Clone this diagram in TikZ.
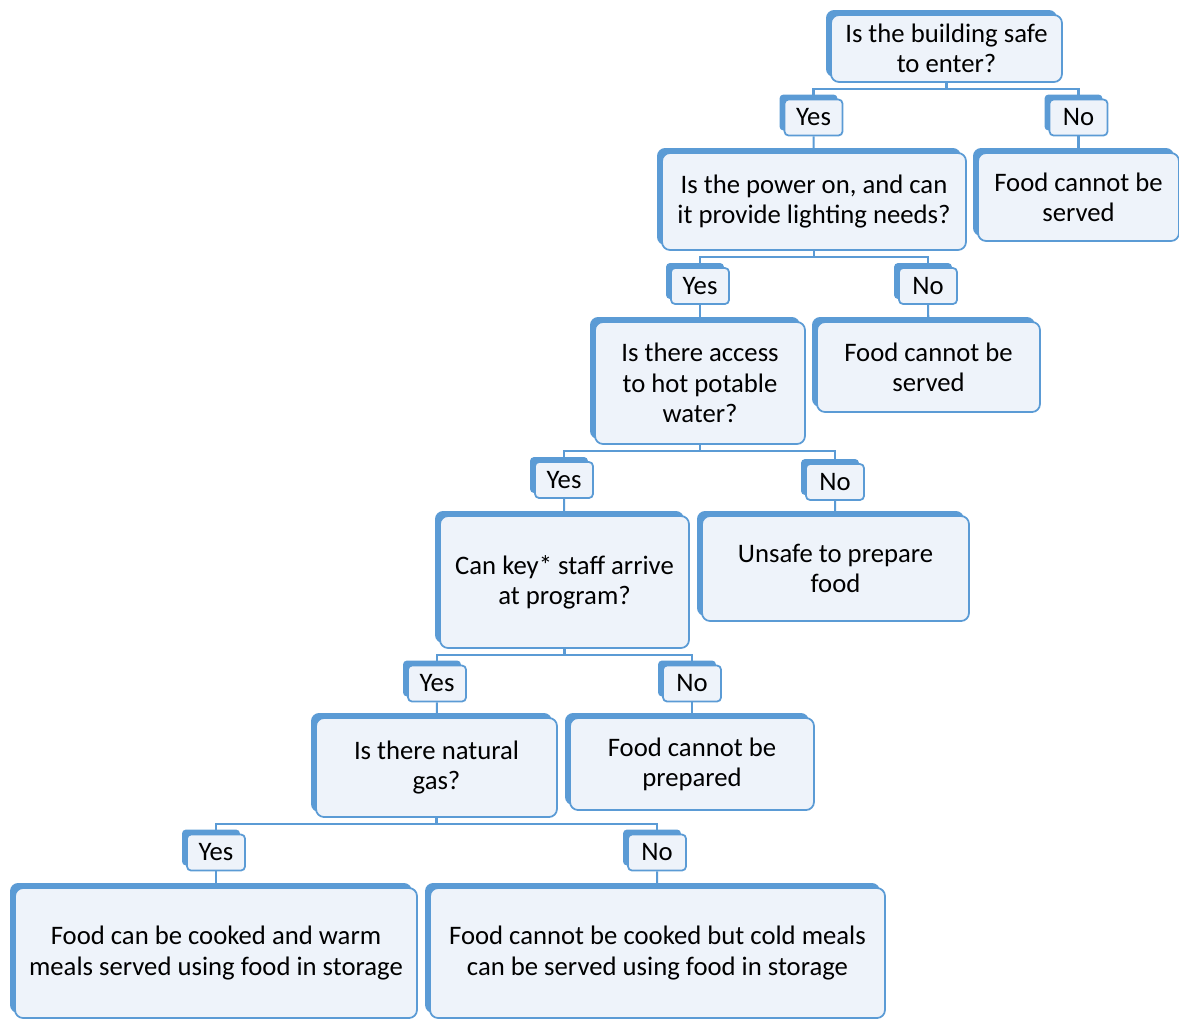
\documentclass[tikz,border=0pt]{standalone}
\usepackage{fontspec}
\setmainfont{Carlito}
\usepackage{tikz}
\usetikzlibrary{shadows}
\definecolor{accent}{HTML}{5B9BD5}
\definecolor{boxfill}{HTML}{EEF3FA}
\begin{document}
\begin{tikzpicture}[
    x=0.02cm, y=-0.02cm,
    box/.style={rectangle, draw=accent, line width=1pt, fill=boxfill, rounded corners=0.16cm,
        align=center, inner sep=0pt, font=\fontsize{15.2}{17.2}\selectfont,
        copy shadow={shadow xshift=-0.1cm, shadow yshift=0.1cm, fill=accent, draw=none}},
    tag/.style={box, rounded corners=0.08cm, minimum width=1.16cm, minimum height=0.72cm},
    link/.style={draw=accent, line width=1.2pt}
]
\useasboundingbox (0,0) rectangle (1179,1019);

% questions
\node[box, minimum width=4.62cm, minimum height=1.34cm] (q1) at (946.5,48.5) {Is the building safe\\to enter?};
\node[box, minimum width=6.08cm, minimum height=1.94cm] (q2) at (814,201.5) {Is the power on, and can\\it provide lighting needs?};
\node[box, minimum width=4.20cm, minimum height=2.44cm] (q3) at (700,383) {Is there access\\to hot potable\\water?};
\node[box, minimum width=4.98cm, minimum height=2.64cm] (q4) at (564.5,582) {Can key* staff arrive\\at program?};
\node[box, minimum width=4.82cm, minimum height=1.98cm] (q5) at (436.5,767.5) {Is there natural\\gas?};

% outcomes
\node[box, minimum width=4.02cm, minimum height=1.76cm] (a1) at (1078.5,197) {Food cannot be\\served};
\node[box, minimum width=4.46cm, minimum height=1.80cm] (a2) at (928.5,367) {Food cannot be\\served};
\node[box, minimum width=5.34cm, minimum height=2.10cm] (a3) at (835.5,568.5) {Unsafe to prepare\\food};
\node[box, minimum width=4.88cm, minimum height=1.84cm] (a4) at (692,764) {Food cannot be\\prepared};
\node[box, minimum width=8.04cm, minimum height=2.60cm] (a5) at (216,953) {Food can be cooked and warm\\meals served using food in storage};
\node[box, minimum width=9.10cm, minimum height=2.60cm] (a6) at (657.5,953) {Food cannot be cooked but cold meals\\can be served using food in storage};

% answers
\node[tag] (y1) at (813.5,117.5) {Yes};
\node[tag] (n1) at (1078.5,117.5) {No};
\node[tag] (y2) at (700,286) {Yes};
\node[tag] (n2) at (928,286) {No};
\node[tag] (y3) at (564,480) {Yes};
\node[tag] (n3) at (835,482) {No};
\node[tag] (y4) at (437,683.5) {Yes};
\node[tag] (n4) at (692,683.5) {No};
\node[tag] (y5) at (216,852.5) {Yes};
\node[tag] (n5) at (657,852.5) {No};

% branches
\foreach \q/\y/\n in {q1/y1/n1, q2/y2/n2, q3/y3/n3, q4/y4/n4, q5/y5/n5} {
  \draw[link] (\q.south) -- ++(0,6) -| (\y.north);
  \draw[link] (\q.south) -- ++(0,6) -| (\n.north);
}
\draw[link] (y1) -- (q2);
\draw[link] (n1) -- (a1);
\draw[link] (y2) -- (q3);
\draw[link] (n2) -- (a2);
\draw[link] (y3) -- (q4);
\draw[link] (n3) -- (a3);
\draw[link] (y4) -- (q5);
\draw[link] (n4) -- (a4);
\draw[link] (y5) -- (a5);
\draw[link] (n5) -- (a6);
\end{tikzpicture}
\end{document}
